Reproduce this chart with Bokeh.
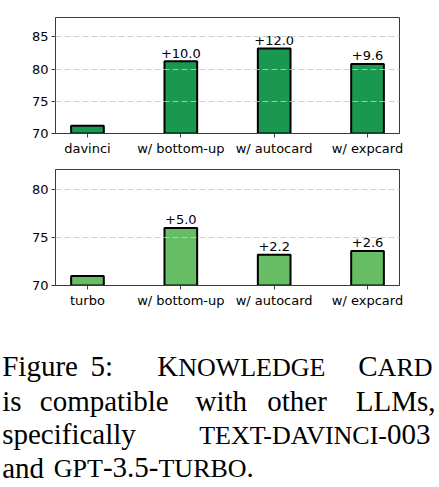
from bokeh.plotting import figure
from bokeh.layouts import column
from bokeh.models import Range1d, FixedTicker, ColumnDataSource, Label
from bokeh.core.properties import value
from bokeh.embed import file_html
from bokeh.resources import INLINE

# ---------------- data ----------------
categories_top = ["davinci", "w/ bottom-up", "w/ autocard", "w/ expcard"]
values_top = [71.2, 81.2, 83.2, 80.8]
gains_top = ["", "+10.0", "+12.0", "+9.6"]
yticks_top = [70, 75, 80, 85]

categories_bottom = ["turbo", "w/ bottom-up", "w/ autocard", "w/ expcard"]
values_bottom = [71.0, 76.0, 73.2, 73.6]
gains_bottom = ["", "+5.0", "+2.2", "+2.6"]
yticks_bottom = [70, 75, 80]

FONT = "DejaVu Sans"
TICK_SIZE = "13px"
ANN_SIZE = "13px"
AX_COLOR = "#3a3a3a"


def make_panel(cats, vals, gains, yticks, ymax, color, height, btop, bbottom):
    xs = list(range(len(cats)))
    p = figure(width=439, height=height, output_backend="svg", toolbar_location=None,
               x_range=Range1d(-0.3425, len(cats) - 1 + 0.3425),
               y_range=Range1d(70, ymax),
               min_border_left=55, min_border_right=40,
               min_border_top=btop, min_border_bottom=bbottom)
    p.background_fill_color = "white"
    p.border_fill_color = "white"
    p.outline_line_color = AX_COLOR
    p.outline_line_width = 1

    src = ColumnDataSource(dict(x=xs, top=vals, label=gains))
    p.vbar(x="x", top="top", bottom=70, width=0.35, source=src,
           fill_color=color, line_color="black", line_width=2)
    p.text(x="x", y="top", text="label", source=src, text_align="center",
           text_baseline="alphabetic", y_offset=-8, text_font=value(FONT),
           text_font_size=ANN_SIZE, text_color="black")

    p.xaxis.ticker = FixedTicker(ticks=xs)
    p.xaxis.major_label_overrides = {i: c for i, c in enumerate(cats)}
    p.yaxis.ticker = FixedTicker(ticks=yticks)
    for ax in (p.xaxis, p.yaxis):
        ax.axis_line_color = AX_COLOR
        ax.major_tick_line_color = AX_COLOR
        ax.major_tick_out = 4
        ax.major_tick_in = 0
        ax.minor_tick_line_color = None
        ax.major_label_text_font = FONT
        ax.major_label_text_font_size = TICK_SIZE
        ax.major_label_text_color = "black"
        ax.major_label_standoff = 3
    p.xgrid.grid_line_color = None
    p.ygrid.ticker = FixedTicker(ticks=yticks[1:])
    p.ygrid.grid_line_color = "#c8c8c8"
    p.ygrid.grid_line_alpha = 0.85
    p.ygrid.grid_line_dash = "6 3"
    p.ygrid.grid_line_width = 1
    p.ygrid.level = "annotation"
    return p


p1 = make_panel(categories_top, values_top, gains_top, yticks_top, 88.0,
                "#1b9850", 160, 17, 27)
p2 = make_panel(categories_bottom, values_bottom, gains_bottom, yticks_bottom, 82.1,
                "#66bd63", 160, 9, 35)

# ---------------- caption ----------------
W = {'a': 444, 'b': 500, 'c': 444, 'd': 500, 'e': 444, 'f': 333, 'g': 500, 'h': 500,
     'i': 278, 'l': 278, 'm': 778, 'n': 500, 'o': 500, 'p': 500, 'r': 333, 's': 389,
     't': 278, 'u': 500, 'w': 722, 'y': 500,
     'A': 722, 'B': 667, 'C': 667, 'D': 722, 'E': 611, 'F': 556, 'G': 722, 'I': 333,
     'K': 722, 'L': 611, 'M': 889, 'N': 722, 'O': 722, 'P': 556, 'R': 667, 'T': 611,
     'U': 722, 'V': 722, 'W': 944, 'X': 722,
     '0': 500, '3': 500, '5': 500, ':': 278, ',': 250, '.': 250, '-': 333, ' ': 250}
NORMAL = 29
SMALL = 26
SERIF = "Liberation Serif"
BASE_SHIFT = 0.38   # em shift to compensate the SVG baseline placement


def run_width(s, size):
    return sum(W[c] for c in s) / 1000.0 * size

# each word: (list of (text, style), anchor, x) ; style "n" normal, "s" small caps
caption_lines = [
    (56.7, [([("Figure", "n")], "left", 1.7), ([("5:", "n")], "left", 90),
            ([("K", "n"), ("NOWLEDGE", "s")], "left", 156.7),
            ([("C", "n"), ("ARD", "s")], "right", 432)]),
    (91.7, [([("is", "n")], "left", 1.7), ([("compatible", "n")], "left", 39.3),
            ([("with", "n")], "left", 195), ([("other", "n")], "left", 266.7),
            ([("LLMs,", "n")], "right", 435)]),
    (125.0, [([("specifically", "n")], "left", 1.7),
             ([("TEXT-DAVINCI-", "s"), ("003", "n")], "right", 430)]),
    (158.3, [([("and", "n")], "left", 1.7),
             ([("GPT", "s"), ("-3.5-", "n"), ("TURBO", "s"), (".", "n")], "left", 53.3)]),
]

p3 = figure(width=439, height=167, output_backend="svg", toolbar_location=None,
            x_axis_type=None, y_axis_type=None,
            x_range=Range1d(0, 439), y_range=Range1d(167, 0),
            min_border_left=0, min_border_right=0,
            min_border_top=0, min_border_bottom=0)
p3.grid.grid_line_color = None
p3.outline_line_color = None
p3.background_fill_color = "white"
p3.border_fill_color = "white"


def add_run(x, base, t, size, align):
    p3.add_layout(Label(x=x, y=base - BASE_SHIFT * size, x_units="data",
                        y_units="data", text=t, text_font=SERIF,
                        text_font_size=f"{size}px", text_align=align,
                        text_baseline="alphabetic", text_color="black"))


for base, words in caption_lines:
    for runs, anchor, x in words:
        cx = x
        if anchor == "left":
            for t, st in runs:
                size = NORMAL if st == "n" else SMALL
                add_run(cx, base, t, size, "left")
                cx += run_width(t, size)
        else:
            for t, st in reversed(runs):
                size = NORMAL if st == "n" else SMALL
                add_run(cx, base, t, size, "right")
                cx -= run_width(t, size)

charts = column(p1, p2, spacing=0)
layout = column(charts, p3, spacing=0)
open("out.html", "w").write(file_html(layout, INLINE))
